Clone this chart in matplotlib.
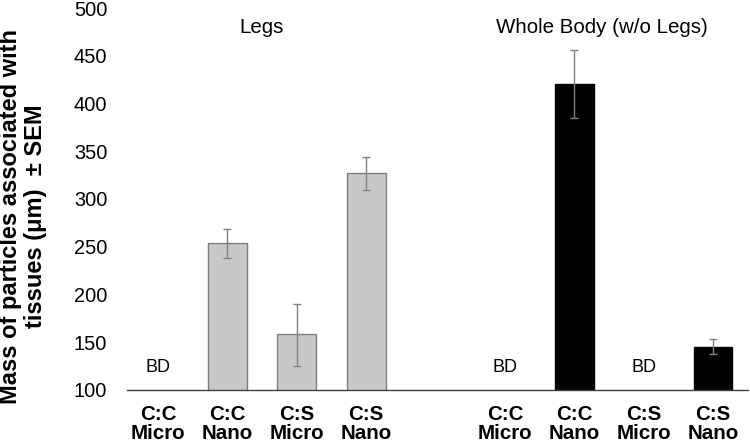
import numpy as np
import matplotlib
matplotlib.use('Agg')
import matplotlib.pyplot as plt

plt.rcParams['font.family'] = ['Liberation Sans', 'DejaVu Sans']

# 数据 (BD = below detection -> NaN)
categories = ['C:C\nMicro', 'C:C\nNano', 'C:S\nMicro', 'C:S\nNano']
legs_mean = [np.nan, 254, 158, 327]
legs_err_hi = [np.nan, 15, 32, 17]
legs_err_lo = [np.nan, 16, 33, 18]
body_mean = [np.nan, 420, np.nan, 145]
body_err_hi = [np.nan, 36, np.nan, 8]
body_err_lo = [np.nan, 35, np.nan, 8]
group_titles = ['Legs', 'Whole Body (w/o Legs)']

fig = plt.figure(figsize=(7.5, 4.46), dpi=100)
ax = fig.add_axes([0.169, 0.126, 0.828, 0.856])

x_legs = np.arange(4)
x_body = np.arange(4) + 5
width = 0.56

ax.bar(x_legs, legs_mean, width, color='#c8c8c8', edgecolor='#7f7f7f', linewidth=1)
ax.errorbar(x_legs, legs_mean, yerr=[legs_err_lo, legs_err_hi], fmt='none',
            ecolor='#808080', elinewidth=1, capsize=3, capthick=1)
ax.bar(x_body, body_mean, width, color='#000000', edgecolor='#000000', linewidth=1)
ax.errorbar(x_body, body_mean, yerr=[body_err_lo, body_err_hi], fmt='none',
            ecolor='#808080', elinewidth=1, capsize=3, capthick=1)

# BD 标记
for xs, vals in [(x_legs, legs_mean), (x_body, body_mean)]:
    for xi, v in zip(xs, vals):
        if np.isnan(v):
            ax.text(xi, 123, 'BD', ha='center', va='center', fontsize=13)

ax.text(1.5, 480, group_titles[0], ha='center', va='center', fontsize=14.8)
ax.text(6.4, 480, group_titles[1], ha='center', va='center', fontsize=14.8)

ax.set_ylim(100, 500)
ax.set_xlim(-0.45, 8.5)
ax.set_yticks(np.arange(100, 501, 50))
ax.tick_params(axis='y', length=0, labelsize=14.4, pad=14)
ax.set_xticks(np.concatenate([x_legs, x_body]))
ax.set_xticklabels(categories * 2, fontsize=14.8, fontweight='bold', linespacing=1.0)
ax.tick_params(axis='x', length=0, pad=11)

for s in ['top', 'right', 'left']:
    ax.spines[s].set_visible(False)
ax.spines['bottom'].set_color('#404040')
ax.spines['bottom'].set_linewidth(1)

ax.set_ylabel('Mass of particles associated with\ntissues (μm)  ± SEM', fontsize=17,
              fontweight='bold', linespacing=1.12)
ax.yaxis.set_label_coords(-0.128, 0.455)

fig.savefig('out.png', dpi=100)
